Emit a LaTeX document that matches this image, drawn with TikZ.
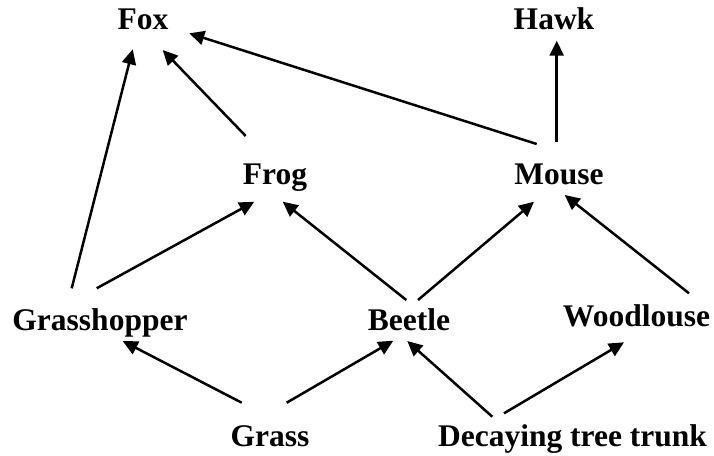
\documentclass[tikz,border=0pt]{standalone}
\usepackage{fontspec}
\setmainfont{Liberation Serif}
\usetikzlibrary{arrows.meta}
\begin{document}
\begin{tikzpicture}[x=1pt,y=-1pt,
  lbl/.style={anchor=base,inner sep=0pt,font=\fontsize{31.5}{36}\selectfont\bfseries},
  arr/.style={line width=2.5pt,-{Triangle[length=15pt,width=14pt]}}]
\useasboundingbox (0,0) rectangle (714,455);
\node[lbl] (fox) at (143,29.3) {Fox};
\node[lbl] (hawk) at (554,29.3) {Hawk};
\node[lbl] (frog) at (275,184.3) {Frog};
\node[lbl] (mouse) at (559,184) {Mouse};
\node[lbl] (grasshopper) at (100,330.7) {Grasshopper};
\node[lbl] (beetle) at (409,330.7) {Beetle};
\node[lbl] (woodlouse) at (636.5,326.7) {Woodlouse};
\node[lbl] (grass) at (270,446) {Grass};
\node[lbl] (trunk) at (572.5,446) {Decaying tree trunk};
\draw[arr] ([shift={(-28.3,-42.4)}]grasshopper.base) -- ([shift={(-10.3,20)}]fox.base);
\draw[arr] ([shift={(-29.3,-48.3)}]frog.base) -- ([shift={(19.7,20.7)}]fox.base);
\draw[arr] ([shift={(-22.3,-40)}]mouse.base) -- ([shift={(46.3,4)}]fox.base);
\draw[arr] ([shift={(-2.3,-42.3)}]mouse.base) -- ([shift={(2.7,11.4)}]hawk.base);
\draw[arr] ([shift={(-3.3,-42.4)}]grasshopper.base) -- ([shift={(-20.7,17.4)}]frog.base);
\draw[arr] ([shift={(-2.7,-30.7)}]beetle.base) -- ([shift={(7.7,17.4)}]frog.base);
\draw[arr] ([shift={(9,-30.7)}]beetle.base) -- ([shift={(-25,17.7)}]mouse.base);
\draw[arr] ([shift={(52.5,-33.4)}]woodlouse.base) -- ([shift={(5.7,11)}]mouse.base);
\draw[arr] ([shift={(-28.3,-43.3)}]grass.base) -- ([shift={(22.7,10.3)}]grasshopper.base);
\draw[arr] ([shift={(16.7,-43.3)}]grass.base) -- ([shift={(-15.7,10)}]beetle.base);
\draw[arr] ([shift={(-80.2,-29.3)}]trunk.base) -- ([shift={(-1.7,10.3)}]beetle.base);
\draw[arr] ([shift={(-68.5,-32.7)}]trunk.base) -- ([shift={(-12.5,15.6)}]woodlouse.base);
\end{tikzpicture}
\end{document}
